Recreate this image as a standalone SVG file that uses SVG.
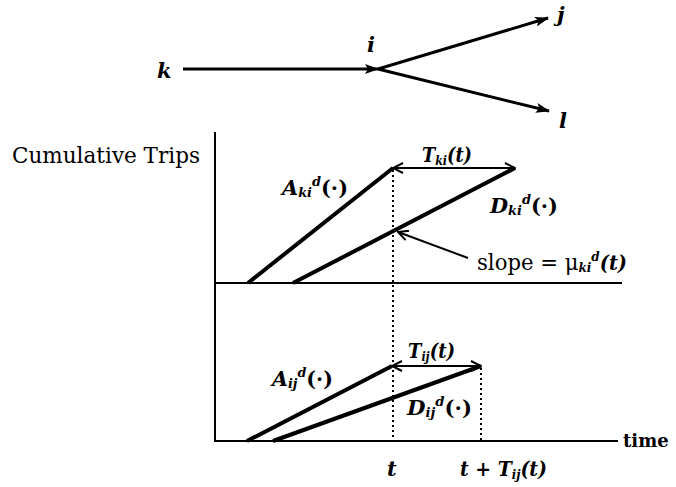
<svg xmlns="http://www.w3.org/2000/svg" width="676" height="487" viewBox="0 0 676 487">
<style>
text { font-family: "DejaVu Serif", serif; fill: #000; }
.m { font-style: italic; font-weight: bold; font-size: 21px; }
.r { font-size: 23px; }
.s { font-size: 13px; }
.thick { stroke: #000; stroke-width: 4; fill: none; }
.thin { stroke: #000; stroke-width: 2; fill: none; }
.net { stroke: #000; stroke-width: 3; fill: none; }
.dot { stroke: #000; stroke-width: 2; stroke-dasharray: 2 3; fill: none; }
</style>
<defs>
<marker id="fa" viewBox="0 0 14 10" refX="13" refY="5" markerWidth="14" markerHeight="10" markerUnits="userSpaceOnUse" orient="auto">
<path d="M0,0 L14,5 L0,10 L3,5 Z" fill="#000"/>
</marker>
<marker id="oa" viewBox="0 0 12 12" refX="11" refY="6" markerWidth="12" markerHeight="12" markerUnits="userSpaceOnUse" orient="auto-start-reverse">
<path d="M1,1 L11,6 L1,11" fill="none" stroke="#000" stroke-width="2"/>
</marker>
</defs>
<g id="node-k"><text class="m" x="157" y="78">k</text></g>
<g id="node-i"><text class="m" x="367" y="52">i</text></g>
<g id="node-j"><text class="m" x="557" y="22">j</text></g>
<g id="node-l"><text class="m" x="559" y="128">l</text></g>
<g id="connectors">
<line class="net" x1="183" y1="69" x2="378" y2="69" marker-end="url(#fa)"/>
<line class="net" x1="378" y1="69" x2="548" y2="18" marker-end="url(#fa)"/>
<line class="net" x1="378" y1="69" x2="549" y2="111" marker-end="url(#fa)"/>
</g>
<g id="chart">
<line class="thin" x1="215" y1="132" x2="215" y2="442"/>
<line class="thin" x1="215" y1="283" x2="622" y2="283"/>
<line class="thin" x1="215" y1="441" x2="618" y2="441"/>
<line class="dot" x1="393" y1="170" x2="393" y2="441"/>
<line class="dot" x1="481" y1="368" x2="481" y2="441"/>
<line class="thick" x1="248" y1="283" x2="393" y2="168"/>
<line class="thick" x1="293" y1="283" x2="515" y2="168"/>
<line class="thin" x1="393" y1="168" x2="515" y2="168" marker-start="url(#oa)" marker-end="url(#oa)"/>
<line class="thin" x1="468" y1="258" x2="398" y2="232" marker-end="url(#oa)"/>
<line class="thick" x1="247" y1="441" x2="392" y2="366"/>
<line class="thick" x1="273" y1="441" x2="481" y2="366"/>
<line class="thin" x1="392" y1="366" x2="481" y2="366" marker-start="url(#oa)" marker-end="url(#oa)"/>
<text class="r" x="12" y="163" textLength="188" lengthAdjust="spacingAndGlyphs">Cumulative Trips</text>
<text class="m" x="422" y="162" textLength="50" lengthAdjust="spacingAndGlyphs">T<tspan class="s" dy="3">ki</tspan><tspan dy="-3">(t)</tspan></text>
<text class="m" x="282" y="195" textLength="66" lengthAdjust="spacingAndGlyphs">A<tspan class="s" dy="2">ki</tspan><tspan class="s" dy="-11">d</tspan><tspan dy="9" font-style="normal">(·)</tspan></text>
<text class="m" x="490" y="213" textLength="68" lengthAdjust="spacingAndGlyphs">D<tspan class="s" dy="2">ki</tspan><tspan class="s" dy="-11">d</tspan><tspan dy="9" font-style="normal">(·)</tspan></text>
<text class="r" x="477" y="270" textLength="150" lengthAdjust="spacingAndGlyphs">slope = μ<tspan class="s" font-style="italic" font-weight="bold" dy="2">ki</tspan><tspan class="s" font-style="italic" font-weight="bold" dy="-11">d</tspan><tspan font-style="italic" font-weight="bold" font-size="21" dy="9">(t)</tspan></text>
<text class="m" x="408" y="358" textLength="47" lengthAdjust="spacingAndGlyphs">T<tspan class="s" dy="3">ij</tspan><tspan dy="-3">(t)</tspan></text>
<text class="m" x="272" y="386" textLength="61" lengthAdjust="spacingAndGlyphs">A<tspan class="s" dy="2">ij</tspan><tspan class="s" dy="-11">d</tspan><tspan dy="9" font-style="normal">(·)</tspan></text>
<text class="m" x="407" y="415" textLength="65" lengthAdjust="spacingAndGlyphs">D<tspan class="s" dy="2">ij</tspan><tspan class="s" dy="-11">d</tspan><tspan dy="9" font-style="normal">(·)</tspan></text>
<text x="623" y="447" font-size="18" font-weight="bold">time</text>
<text class="m" x="387" y="476">t</text>
<text class="m" x="460" y="476" textLength="87" lengthAdjust="spacingAndGlyphs">t + T<tspan class="s" dy="3">ij</tspan><tspan dy="-3">(t)</tspan></text>
</g>
</svg>
